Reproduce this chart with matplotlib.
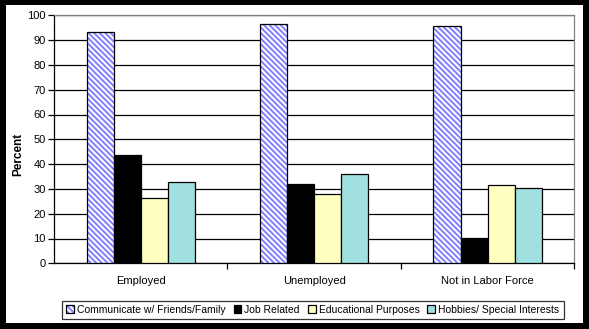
import matplotlib
matplotlib.use("Agg")
import matplotlib.pyplot as plt
import numpy as np
from matplotlib.patches import Rectangle
from matplotlib.legend_handler import HandlerTuple

categories = ["Employed", "Unemployed", "Not in Labor Force"]
series_names = ["Communicate w/ Friends/Family", "Job Related",
                "Educational Purposes", "Hobbies/ Special Interests"]
communicate = [93.1, 96.4, 95.6]
job_related = [43.7, 31.9, 10.1]
educational = [26.5, 27.8, 31.5]
hobbies = [32.7, 35.9, 30.2]
yticks = [0, 10, 20, 30, 40, 50, 60, 70, 80, 90, 100]

plt.rcParams['font.family'] = ['Liberation Sans', 'DejaVu Sans']
plt.rcParams['hatch.linewidth'] = 1.4

W, H = 589, 329
fig = plt.figure(figsize=(W / 100, H / 100), dpi=100, facecolor='black')
fig.patches.append(Rectangle((6 / W, 1 - 323 / H), (583 - 6) / W, (323 - 5) / H,
                             transform=fig.transFigure, facecolor='white',
                             edgecolor='none', zorder=-5))

ax = fig.add_axes([54 / W, 1 - 263.3 / H, (574.3 - 54) / W, (263.3 - 15.3) / H])
ax.set_facecolor('white')
ax.set_zorder(1)

x = np.arange(len(categories))
bw = 0.156
data = [communicate, job_related, educational, hobbies]
colors = ['white', 'black', '#FFFFC0', '#A0E0E0']
handles = []
for i, (vals, c, name) in enumerate(zip(data, colors, series_names)):
    pos = x + (i - 1.5) * bw
    if i == 0:
        hb = ax.bar(pos, vals, width=bw, color='white', edgecolor='#8080FF',
                    linewidth=0, hatch='\\' * 6, zorder=3)
        ob = ax.bar(pos, vals, width=bw, fill=False, edgecolor='black',
                    linewidth=0.9, zorder=4)
        handles.append((hb.patches[0], ob.patches[0]))
    else:
        b = ax.bar(pos, vals, width=bw, color=c, edgecolor='black',
                   linewidth=0.9, zorder=3)
        handles.append(b.patches[0])

ax.set_xlim(-0.5, 2.5)
ax.set_ylim(0, 100)
ax.set_yticks(yticks)
ax.set_yticklabels([str(t) for t in yticks], fontsize=8)
ax.yaxis.grid(True, color='black', linewidth=0.9, zorder=1)
ax.set_axisbelow(True)

ax.set_xticks(x)
ax.set_xticklabels(categories, fontsize=8)
ax.tick_params(axis='x', length=0, pad=9)
ax.set_xticks([0.5, 1.5, 2.5], minor=True)
ax.tick_params(axis='x', which='minor', length=4, width=0.9, direction='out')
ax.tick_params(axis='y', length=4, width=0.9, direction='out', pad=2)

for s in ['top', 'right']:
    ax.spines[s].set_color('#808080')
    ax.spines[s].set_linewidth(0.9)
for s in ['left', 'bottom']:
    ax.spines[s].set_color('black')
    ax.spines[s].set_linewidth(0.9)

fig.text(18 / W, 1 - 154 / H, "Percent", rotation=90, fontsize=8.5,
         fontweight='bold', ha='center', va='center')

leg = fig.legend(handles, series_names, loc='center',
                 bbox_to_anchor=((62.3 + 563.3) / 2 / W, 1 - 309.7 / H),
                 handler_map={tuple: HandlerTuple(ndivide=1, pad=0)},
                 ncol=4, fontsize=7.5, frameon=True, fancybox=False,
                 edgecolor='black', handlelength=0.75, handleheight=0.75,
                 handletextpad=0.3, columnspacing=0.75, borderpad=0.4,
                 borderaxespad=0)
leg.get_frame().set_linewidth(0.9)

fig.savefig('out.png', dpi=100, facecolor='black')
